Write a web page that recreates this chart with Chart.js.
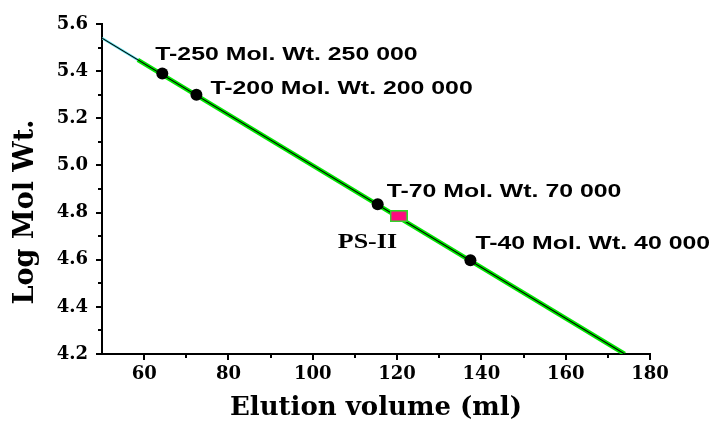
<!DOCTYPE html>
<html>
<head>
<meta charset="utf-8">
<script src="https://cdn.jsdelivr.net/npm/chart.js@4"></script>
<style>
  html, body { margin: 0; padding: 0; background: #fff; }
  #wrap { width: 717px; height: 421px; }
</style>
</head>
<body>
<div id="wrap"><canvas id="calib"></canvas></div>
<script>
// calibration standards (dextran T-series)
const stdNames = ['T-250 Mol. Wt. 250 000', 'T-200 Mol. Wt. 200 000', 'T-70 Mol. Wt. 70 000', 'T-40 Mol. Wt. 40 000'];
const stdVolume = [64.3, 72.4, 115.4, 137.4];
const stdLogMw = [5.39, 5.30, 4.835, 4.598];

// sample
const sampleNames = ['PS-II'];
const sampleVolume = [120.4];
const sampleLogMw = [4.785];

// fitted line
const fitVolume = [50, 174];
const fitLogMw = [5.54, 4.2];
const fitStartVolume = [50, 58.5];
const fitStartLogMw = [5.54, 5.448];

const xTicks = [60, 80, 100, 120, 140, 160, 180];
const yTicks = [4.2, 4.4, 4.6, 4.8, 5.0, 5.2, 5.4, 5.6];

// label offsets in px from the point (baseline-left)
const stdLabelOffsets = [[-7, -14], [14, -1], [9, -7], [5, -11]];
const sampleLabelOffsets = [[-61, 32]];

function pts(xs, ys) {
    return xs.map((x, i) => ({ x: x, y: ys[i] }));
}

// pink box marker
const box = document.createElement('canvas');
box.width = 18; box.height = 12;
const bctx = box.getContext('2d');
bctx.fillStyle = '#27e027';
bctx.fillRect(0, 0, 18, 12);
bctx.fillStyle = '#ff0a7f';
bctx.fillRect(1.5, 1.5, 15, 9);

const labelPlugin = {
    id: 'labels',
    afterDatasetsDraw(chart) {
        const ctx = chart.ctx;
        const xs = chart.scales.x, ys = chart.scales.y;
        ctx.save();
        ctx.fillStyle = '#000';
        ctx.textBaseline = 'alphabetic';
        ctx.textAlign = 'left';
        ctx.font = 'bold 18px "Liberation Sans", Arial, sans-serif';
        stdNames.forEach((name, i) => {
            const px = xs.getPixelForValue(stdVolume[i]) + stdLabelOffsets[i][0];
            const py = ys.getPixelForValue(stdLogMw[i]) + stdLabelOffsets[i][1];
            ctx.save();
            ctx.translate(px, py);
            ctx.scale(1.38, 1);
            ctx.fillText(name, 0, 0);
            ctx.restore();
        });
        ctx.font = 'bold 20px "Liberation Serif", "Times New Roman", serif';
        sampleNames.forEach((name, i) => {
            const px = xs.getPixelForValue(sampleVolume[i]) + sampleLabelOffsets[i][0];
            const py = ys.getPixelForValue(sampleLogMw[i]) + sampleLabelOffsets[i][1];
            ctx.save();
            ctx.translate(px, py);
            ctx.scale(1.3, 1);
            ctx.fillText(name, 0, 0);
            ctx.restore();
        });
        ctx.restore();
    },
    afterDraw(chart) {
        const ctx = chart.ctx;
        const xs = chart.scales.x, ys = chart.scales.y;
        const area = chart.chartArea;
        ctx.save();
        // minor ticks
        ctx.strokeStyle = '#000';
        ctx.lineWidth = 2;
        ctx.beginPath();
        for (let v = 70; v < 180; v += 20) {
            const px = Math.round(xs.getPixelForValue(v));
            ctx.moveTo(px, area.bottom);
            ctx.lineTo(px, area.bottom + 4);
        }
        for (let k = 0; k < 7; k++) {
            const py = Math.round(ys.getPixelForValue(4.3 + k * 0.2));
            ctx.moveTo(area.left, py);
            ctx.lineTo(area.left - 4, py);
        }
        ctx.stroke();
        // y title
        ctx.fillStyle = '#000';
        ctx.font = 'bold 27px "DejaVu Serif", serif';
        ctx.textAlign = 'center';
        ctx.textBaseline = 'alphabetic';
        ctx.translate(33, 212);
        ctx.rotate(-Math.PI / 2);
        ctx.fillText('Log Mol Wt.', 0, 0);
        ctx.restore();
    }
};

const tickFont = { family: '"DejaVu Serif", serif', size: 18, weight: 'bold' };

new Chart(document.getElementById('calib'), {
    type: 'scatter',
    data: {
        datasets: [
            {
                data: pts(stdVolume, stdLogMw),
                backgroundColor: '#000',
                borderColor: '#000',
                pointRadius: 6,
                pointHoverRadius: 6,
                borderWidth: 0,
                order: 0
            },
            {
                data: pts(sampleVolume, sampleLogMw),
                pointStyle: box,
                order: 0
            },
            {
                data: pts(fitVolume, fitLogMw),
                showLine: true,
                borderColor: '#000',
                borderWidth: 1.1,
                pointRadius: 0,
                order: 1
            },
            {
                data: pts([fitStartVolume[1], fitVolume[1]], [fitStartLogMw[1], fitLogMw[1]]),
                showLine: true,
                borderColor: '#00e600',
                borderWidth: 4.5,
                pointRadius: 0,
                order: 2
            },
            {
                data: pts(fitStartVolume, fitStartLogMw),
                showLine: true,
                borderColor: '#5fe8f0',
                borderWidth: 2.5,
                pointRadius: 0,
                order: 2
            }
        ]
    },
    options: {
        responsive: true,
        maintainAspectRatio: false,
        animation: false,
        layout: { padding: { top: 24, right: 67, left: 0, bottom: 0 } },
        plugins: { legend: { display: false }, tooltip: { enabled: false } },
        scales: {
            x: {
                type: 'linear',
                min: 50,
                max: 180,
                afterFit(scale) { scale.height = 67; },
                afterBuildTicks(scale) {
                    scale.ticks = xTicks.map(v => ({ value: v }));
                },
                border: { display: true, color: '#000', width: 2 },
                grid: { drawOnChartArea: false, drawTicks: true, tickLength: 6, color: '#000', lineWidth: 2 },
                ticks: { color: '#000', font: tickFont, padding: 4, maxRotation: 0, autoSkip: false },
                title: {
                    display: true,
                    text: 'Elution volume (ml)',
                    color: '#000',
                    font: { family: '"DejaVu Serif", serif', size: 26, weight: 'bold', lineHeight: 1 },
                    padding: 0
                }
            },
            y: {
                type: 'linear',
                min: 4.2,
                max: 5.6,
                afterFit(scale) { scale.width = 102; },
                afterBuildTicks(scale) {
                    scale.ticks = yTicks.map(v => ({ value: v }));
                },
                border: { display: true, color: '#000', width: 2 },
                grid: { drawOnChartArea: false, drawTicks: true, tickLength: 6, color: '#000', lineWidth: 2 },
                ticks: {
                    color: '#000',
                    font: tickFont,
                    padding: 8,
                    callback: v => v.toFixed(1)
                }
            }
        }
    },
    plugins: [labelPlugin]
});
</script>
</body>
</html>
